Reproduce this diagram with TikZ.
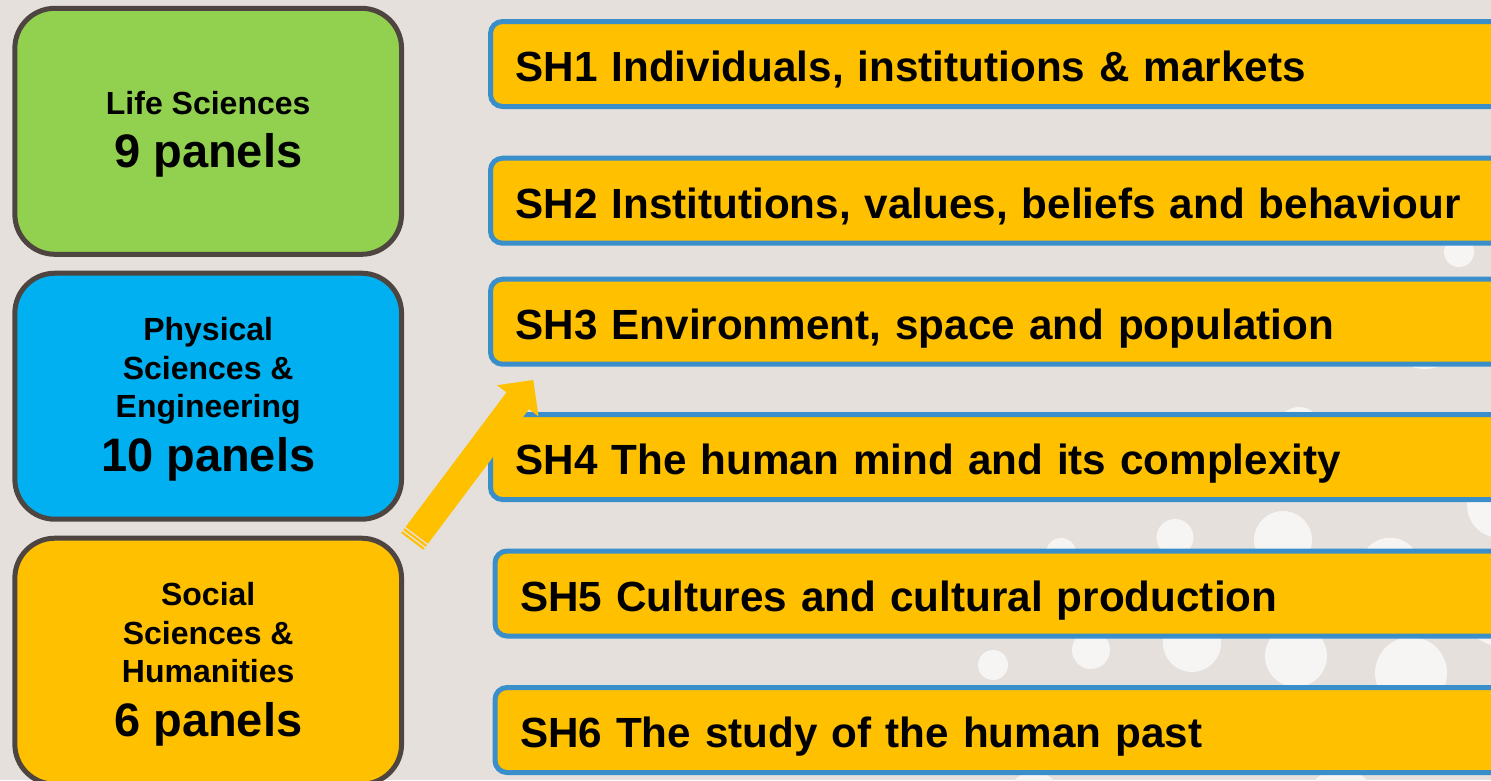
\documentclass[tikz,border=0pt]{standalone}
\usepackage{fontspec}
\setmainfont{Liberation Sans}
\definecolor{bgc}{HTML}{E5E0DC}
\definecolor{dotc}{HTML}{F7F5F4}
\definecolor{lifec}{HTML}{92D050}
\definecolor{physc}{HTML}{00B0F0}
\definecolor{goldc}{HTML}{FFC000}
\definecolor{darkedge}{HTML}{4E4541}
\definecolor{blueedge}{HTML}{3A8FCB}
\newcommand\smln[1]{\hbox to 360pt{\hss\rule[-9.5pt]{0pt}{38.5pt}#1\hss}}
\newcommand\bgln[1]{\hbox to 360pt{\hss\rule[-8.4pt]{0pt}{52.4pt}{\fontsize{47pt}{50pt}\selectfont #1}\hss}}
\tikzset{
  domainbox/.style={draw=darkedge, line width=5pt, rounded corners=40pt,
    minimum width=386.7pt, minimum height=246pt, inner sep=0pt,
    font=\bfseries\fontsize{32pt}{38pt}\selectfont},
  shbox/.style={draw=blueedge, fill=goldc, line width=5pt, rounded corners=12pt,
    anchor=west, outer sep=0pt, minimum height=85pt, text width=1000pt, align=left,
    inner xsep=25pt, inner ysep=0pt, text height=35.4pt, text depth=0pt,
    font=\bfseries\fontsize{42.2pt}{50pt}\selectfont},
  dot/.style={fill=dotc}
}
\begin{document}
\begin{tikzpicture}[x=1pt,y=-1pt]
\useasboundingbox (0,0) rectangle (1491,780);
\clip (0,0) rectangle (1491,780);
\fill[bgc] (0,0) rectangle (1491,780);
% decorative dots
\foreach \cx/\cy/\r in {1459/252/15, 1425/329/40, 1299/429/22, 1061/553/15,
  1175/537.5/18.5, 1283/540/29, 1390/567.7/30, 1500/505/33, 993/665/15,
  1091/650/19, 1192/643/29, 1296/656/31, 1411/673/36, 1500/610/36,
  1034/800/28, 1341/805/36}
  \fill[dot] (\cx,\cy) circle[radius=\r];
% domain boxes
\node[domainbox, fill=lifec] (life) at (208.2,131.3)
  {\vbox{\offinterlineskip\smln{Life Sciences}\bgln{9 panels}}};
\node[domainbox, fill=physc] (phys) at (208.2,396.2)
  {\vbox{\offinterlineskip\smln{Physical}\smln{Sciences \&}\smln{Engineering}\bgln{10 panels}}};
\node[domainbox, fill=goldc] (soc) at (208.2,661.2)
  {\vbox{\offinterlineskip\smln{Social}\smln{Sciences \&}\smln{Humanities}\bgln{6 panels}}};
% SH panels
\node[shbox] (sh1) at (490.5,64) {SH1 Individuals, institutions \& markets};
\node[shbox] (sh2) at (490.5,200.7) {SH2 Institutions, values, beliefs and behaviour};
\node[shbox] (sh3) at (490.5,321.7) {SH3 Environment, space and population};
\node[shbox] (sh4) at (490.5,457) {SH4 The human mind and its complexity};
\node[shbox] (sh5) at (495,593.5) {SH5 Cultures and cultural production};
\node[shbox] (sh6) at (495,730) {SH6 The study of the human past};
% striped block arrow
\begin{scope}[shift={(412.3,541.3)}, x={(0.6002pt,0.8001pt)}, y={(0.8001pt,-0.6002pt)}]
  \fill[goldc] (7.5,-14) -- (175.6,-14) -- (175.6,-26) -- (201.6,0)
     -- (175.6,26) -- (175.6,14) -- (7.5,14) -- cycle;
  \fill[goldc] (0,-14) -- (2,-14) -- (2,14) -- (0,14) -- cycle;
  \fill[goldc] (3.7,-14) -- (5.9,-14) -- (5.9,14) -- (3.7,14) -- cycle;
\end{scope}
\end{tikzpicture}
\end{document}
